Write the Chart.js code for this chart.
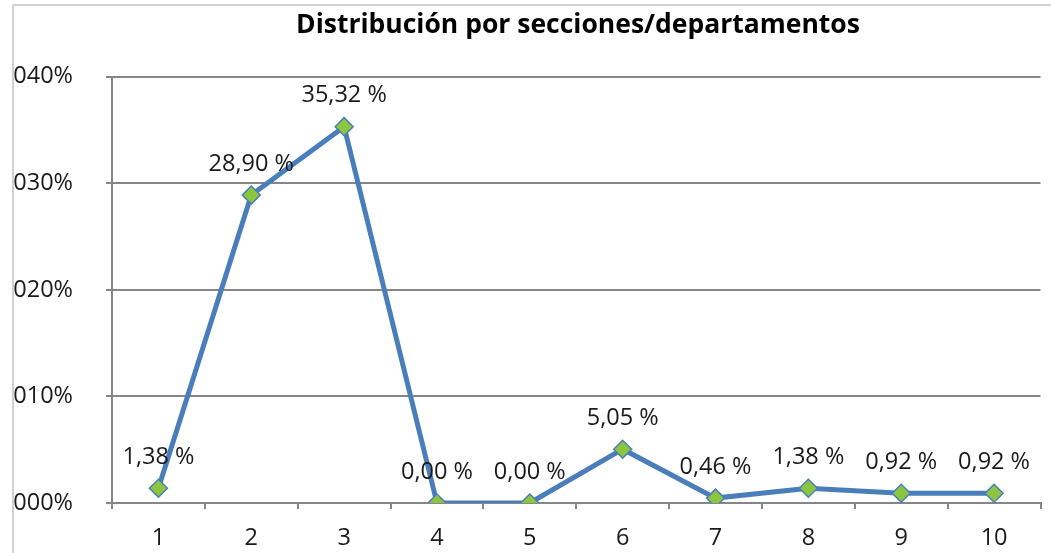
<!DOCTYPE html>
<html>
<head>
<meta charset="utf-8">
<script src="https://cdn.jsdelivr.net/npm/chart.js@4"></script>
<style>
  html, body { margin: 0; padding: 0; background: #fff; }
  #wrap { width: 1051px; height: 553px; position: relative; }
</style>
</head>
<body>
<div id="wrap"><canvas id="myChart"></canvas></div>
<script>
// datos del gráfico
const secciones = ['1', '2', '3', '4', '5', '6', '7', '8', '9', '10'];
const porcentajes = [1.38, 28.90, 35.32, 0.00, 0.00, 5.05, 0.46, 1.38, 0.92, 0.92];
const ejeY = [0, 10, 20, 30, 40];
const titulo = 'Distribución por secciones/departamentos';

const fuente = "'Open Sans', 'Liberation Sans', sans-serif";

// marco exterior + título (el título va algo a la derecha, como en Excel)
const marco = {
    id: 'marco',
    beforeDraw(chart) {
        const ctx = chart.ctx;
        ctx.save();
        ctx.fillStyle = '#ffffff';
        ctx.fillRect(0, 0, chart.width, chart.height);
        ctx.strokeStyle = '#c4c4c4';
        ctx.lineWidth = 1.5;
        ctx.strokeRect(13, 5, chart.width + 20, chart.height + 20);
        ctx.restore();
    },
    afterDraw(chart) {
        const ctx = chart.ctx;
        ctx.save();
        ctx.font = 'bold 26.5px ' + fuente;
        ctx.fillStyle = '#000';
        ctx.textAlign = 'center';
        ctx.textBaseline = 'middle';
        ctx.fillText(titulo, 578, 25);
        ctx.restore();
    }
};

// etiquetas encima de cada punto
const etiquetas = {
    id: 'etiquetas',
    afterDatasetsDraw(chart) {
        const ctx = chart.ctx;
        const meta = chart.getDatasetMeta(0);
        ctx.save();
        ctx.font = '23.5px ' + fuente;
        ctx.fillStyle = '#1a1a1a';
        ctx.textAlign = 'center';
        ctx.textBaseline = 'middle';
        meta.data.forEach((pt, i) => {
            const txt = porcentajes[i].toFixed(2).replace('.', ',') + ' %';
            ctx.fillText(txt, pt.x, pt.y - 31);
        });
        ctx.restore();
    }
};

const ctx = document.getElementById('myChart').getContext('2d');
new Chart(ctx, {
    type: 'line',
    data: {
        labels: secciones,
        datasets: [{
            data: porcentajes,
            borderColor: '#4a7ebb',
            borderWidth: 5,
            backgroundColor: '#8cc63f',
            pointStyle: 'rectRot',
            pointRadius: 9,
            pointBorderColor: '#4a7ebb',
            pointBorderWidth: 1.5,
            pointBackgroundColor: '#8cc63f',
            tension: 0
        }]
    },
    options: {
        responsive: true,
        maintainAspectRatio: false,
        animation: false,
        layout: { padding: { left: 0, right: 4, top: 0, bottom: 0 } },
        plugins: {
            legend: { display: false },
            tooltip: { enabled: false },
            // título oculto, solo reserva el espacio; se dibuja en el plugin
            title: {
                display: true,
                text: titulo,
                color: 'rgba(0,0,0,0)',
                font: { family: fuente, size: 26.5, weight: 'bold' },
                padding: { top: 9, bottom: 36 }
            }
        },
        scales: {
            x: {
                offset: true,
                grid: {
                    display: true,
                    drawOnChartArea: false,
                    color: '#868686',
                    lineWidth: 2,
                    tickLength: 6,
                    offset: true
                },
                border: { color: '#868686', width: 2 },
                ticks: {
                    color: '#1a1a1a',
                    font: { family: fuente, size: 23.5 },
                    padding: 15
                },
                afterFit(s) { s.height = 50; }
            },
            y: {
                min: 0,
                max: 40,
                afterBuildTicks(s) { s.ticks = ejeY.map(v => ({ value: v })); },
                grid: {
                    color: '#868686',
                    lineWidth: 2,
                    tickLength: 6
                },
                border: { color: '#868686', width: 2 },
                ticks: {
                    color: '#1a1a1a',
                    font: { family: fuente, size: 23.5 },
                    padding: 33,
                    callback: v => String(v).padStart(3, '0') + '%'
                },
                afterFit(s) { s.width = 112; }
            }
        }
    },
    plugins: [marco, etiquetas]
});
</script>
</body>
</html>
